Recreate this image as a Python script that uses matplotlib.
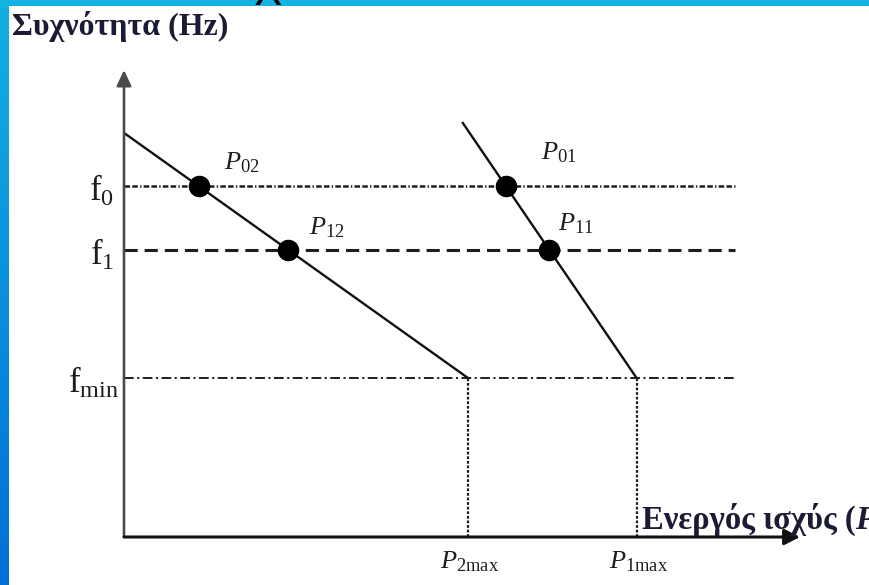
import numpy as np
import matplotlib.pyplot as plt

plt.rcParams['font.family'] = 'Liberation Serif'
plt.rcParams['mathtext.fontset'] = 'custom'
plt.rcParams['mathtext.rm'] = 'Liberation Serif'
plt.rcParams['mathtext.it'] = 'Liberation Serif:italic'
plt.rcParams['lines.scale_dashes'] = False

# frequency levels (Hz)
f_values = [50.0, 49.0, 47.0]
f_names = ['0', '1', 'min']
f_dashes = [(4, 1.6, 4, 1.6, 1, 1.6), (9.5, 5), (7, 2.5, 1.5, 2.5)]
f_widths = [1.8, 2.2, 1.4]

# droop characteristics of the two units: (P, f) end points
gen2_P = [0.0, 10.0]
gen2_f = [50.83, 47.0]
gen1_P = [9.83, 14.9]
gen1_f = [51.0, 47.0]
P_max = {'2max': 10.0, '1max': 14.9}

# operating points: unit number, level index, label text, label offset
op_points = [
    ('2', 0, '02', (25, 23)),
    ('2', 1, '12', (21, 22)),
    ('1', 0, '01', (35, 33)),
    ('1', 1, '11', (9, 26)),
]

x_lim = (0, 19.65)
y_lim = (44.516, 51.813)
guide_end = 17.76

fig = plt.figure(figsize=(8.7, 5.85), dpi=100)
ax = fig.add_axes([124 / 870, 48 / 585, 676 / 870, 467 / 585])
ax.set_xlim(*x_lim)
ax.set_ylim(*y_lim)
ax.axis('off')

ink = '#1e1e1e'

# axes with arrows
ax.annotate('', xy=(0, 1), xytext=(0, 0), xycoords='axes fraction',
            arrowprops=dict(arrowstyle='-|>,head_length=0.47,head_width=0.22',
                            mutation_scale=20, lw=1.9, color='#4a4a4a',
                            shrinkA=0, shrinkB=0))
ax.annotate('', xy=(1, 0), xytext=(0, 0), xycoords='axes fraction',
            arrowprops=dict(arrowstyle='-|>,head_length=0.47,head_width=0.24',
                            mutation_scale=20, lw=2.2, color='#111111',
                            shrinkA=0, shrinkB=0))

# frequency guide lines and labels
for f, name, dash, lw in zip(f_values, f_names, f_dashes, f_widths):
    ln, = ax.plot([0, guide_end], [f, f], color=ink, lw=lw)
    ln.set_dashes(dash)
    ax.annotate(r'$\mathrm{f}_{\mathrm{%s}}$' % name, xy=(0, f),
                xytext=(-5 if name == 'min' else -10, -5),
                textcoords='offset pixels', ha='right', va='center',
                fontsize=25, color=ink)

# droop lines
ax.plot(gen2_P, gen2_f, color='#111111', lw=1.7, solid_capstyle='butt')
ax.plot(gen1_P, gen1_f, color='#111111', lw=1.7, solid_capstyle='butt')

# maximum power drop lines and labels
for name, p in P_max.items():
    ln, = ax.plot([p, p], [y_lim[0], f_values[2]], color=ink, lw=1.6)
    ln.set_dashes((2, 1.3))
    ax.annotate(r'$P_{\mathrm{%s}}$' % name, xy=(p, y_lim[0]),
                xytext=(-28, -25), textcoords='offset pixels',
                ha='left', va='center', fontsize=19, color=ink)

# operating points
curves = {'2': (gen2_P, gen2_f), '1': (gen1_P, gen1_f)}
for unit, idx, label, off in op_points:
    P, f = curves[unit]
    fl = f_values[idx]
    p = np.interp(fl, f[::-1], P[::-1])
    ax.plot(p, fl, 'o', color='black', ms=14.5, zorder=5)
    ax.annotate(r'$P_{\mathrm{%s}}$' % label, xy=(p, fl), xytext=off,
                textcoords='offset pixels', ha='left', va='center',
                fontsize=19, color=ink)

# axis titles
txt_col = '#1b1b33'
fig.text(12 / 870, 1 - 35 / 585, 'Συχνότητα (Hz)', fontsize=23,
         fontweight='bold', va='baseline', color=txt_col)
t1 = ax.annotate('Ενεργός ισχύς (', xy=(P_max['1max'], y_lim[0]),
                 xytext=(5, 8), textcoords='offset pixels',
                 ha='left', va='baseline', fontsize=23.5, fontweight='bold',
                 color=txt_col)
ax.annotate('P)', xy=(1, 0), xycoords=t1, ha='left', va='bottom',
            fontsize=23.5, fontweight='bold', fontstyle='italic', color=txt_col)

# slide frame
frame = fig.add_axes([0, 0, 1, 1], zorder=10)
frame.axis('off')
frame.patch.set_alpha(0)
grad = np.linspace(0, 1, 256).reshape(-1, 1)
top_c = np.array([0x14, 0xB0, 0xE2]) / 255
bot_c = np.array([0x00, 0x70, 0xD6]) / 255
img = top_c + grad[..., None] * (bot_c - top_c)
frame.imshow(img, extent=(0, 9, 585, 0), aspect='auto', interpolation='bilinear')
frame.add_patch(plt.Rectangle((0, 0), 870, 6, color='#14b2e2', lw=0))
frame.text(268, 5, 'Χ', fontsize=30, color='black', ha='center',
           va='baseline', family='DejaVu Sans', zorder=5)
frame.set_xlim(0, 870)
frame.set_ylim(585, 0)

fig.savefig('out.png', dpi=100)
